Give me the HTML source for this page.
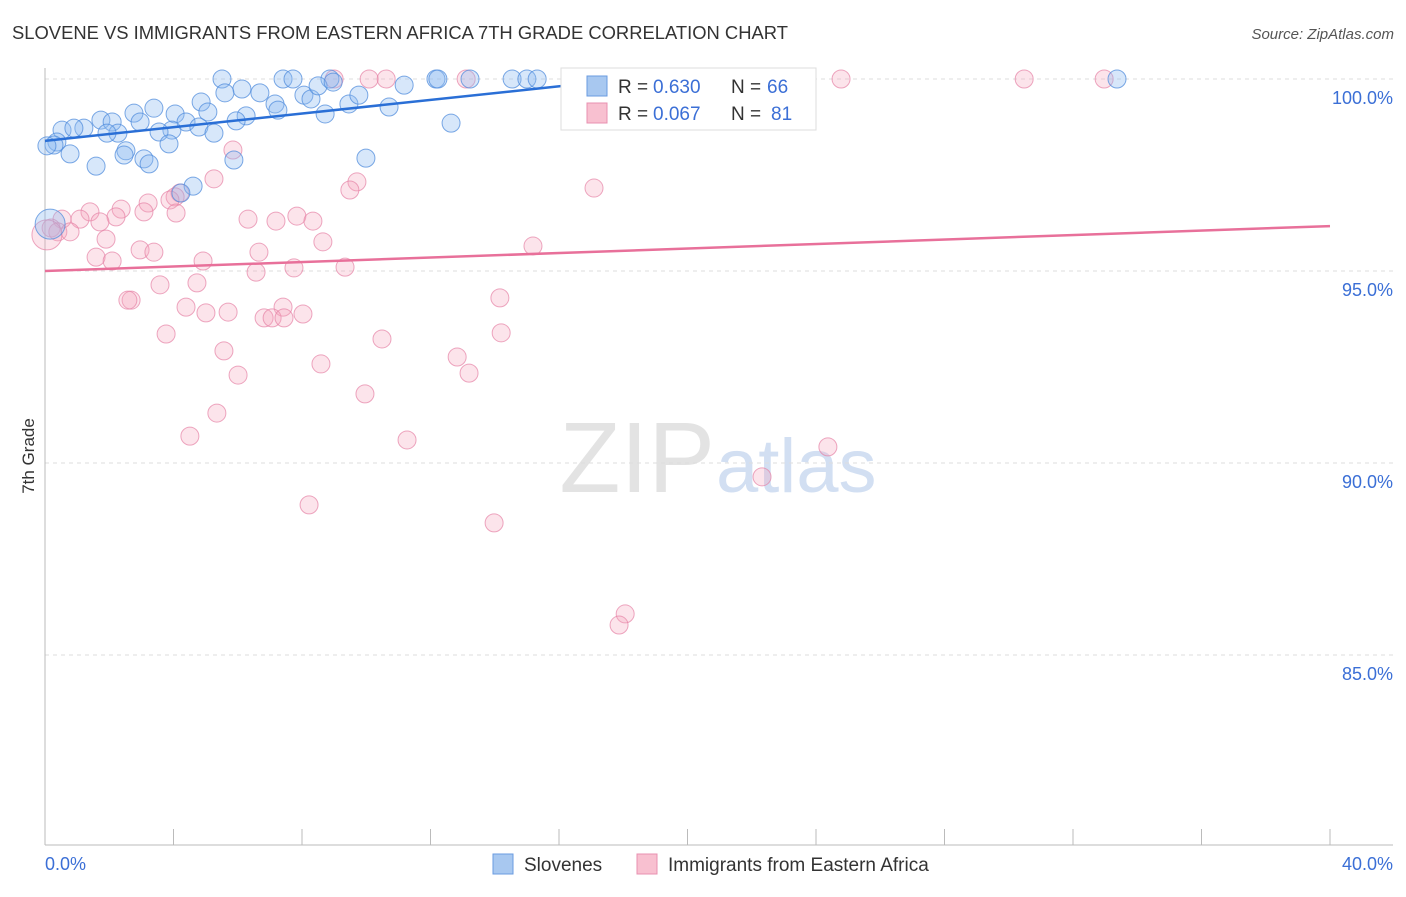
<!DOCTYPE html>
<html><head><meta charset="utf-8"><style>
body{margin:0;background:#fff;font-family:"Liberation Sans",sans-serif;}
svg text{font-family:"Liberation Sans",sans-serif;}
</style></head><body>
<svg id="chart" width="1406" height="892" viewBox="0 0 1406 892" xmlns="http://www.w3.org/2000/svg">
<text x="12" y="39" font-size="18.4" fill="#333">SLOVENE VS IMMIGRANTS FROM EASTERN AFRICA 7TH GRADE CORRELATION CHART</text>
<text x="1394" y="39" font-size="15" fill="#555" text-anchor="end" font-style="italic">Source: ZipAtlas.com</text>
<text x="715" y="492" font-size="100" fill="#ddd" text-anchor="end" font-family="Liberation Serif" opacity="0.8">ZIP</text>
<text x="716" y="492" font-size="76" fill="#c8d8f0" opacity="0.8">atlas</text>
<g id="grid"></g><g id="axes"></g><g id="pts"></g><g id="lines"></g>
<text transform="translate(34,456) rotate(-90)" font-size="17" fill="#333" text-anchor="middle">7th Grade</text>
<g>
<rect x="561" y="68" width="255" height="62" fill="#fff" stroke="#ddd"/>
<rect x="587" y="76" width="20" height="20" fill="#a8c8f0" stroke="#6a9be0"/>
<rect x="587" y="103" width="20" height="20" fill="#f8c0d0" stroke="#e890b0"/>
<text x="618" y="93" font-size="19" fill="#333">R =</text><text x="653" y="93" font-size="19" fill="#3b6fd6">0.630</text>
<text x="731" y="93" font-size="19" fill="#333">N =</text><text x="767" y="93" font-size="19" fill="#3b6fd6">66</text>
<text x="618" y="120" font-size="19" fill="#333">R =</text><text x="653" y="120" font-size="19" fill="#3b6fd6">0.067</text>
<text x="731" y="120" font-size="19" fill="#333">N =</text><text x="771" y="120" font-size="19" fill="#3b6fd6">81</text>
</g>
<g>
<rect x="493" y="854" width="20" height="20" fill="#a8c8f0" stroke="#6a9be0"/>
<text x="524" y="871" font-size="19" fill="#333">Slovenes</text>
<rect x="637" y="854" width="20" height="20" fill="#f8c0d0" stroke="#e890b0"/>
<text x="668" y="871" font-size="19" fill="#333">Immigrants from Eastern Africa</text>
</g>
<text x="45" y="870" font-size="18" fill="#3b6fd6">0.0%</text>
<text x="1393" y="870" font-size="18" fill="#3b6fd6" text-anchor="end">40.0%</text>
</svg>
<script>
const yTicks=[100,95,90,85];
const yTickLabels=["100.0%","95.0%","90.0%","85.0%"];
const xTicks=[0,4,8,12,16,20,24,28,32,36,40];
const blueX=[5.51,7.41,7.72,8.87,12.17,12.23,13.23,14.54,15.0,15.32,33.37,21.17,21.70,6.13,5.60,6.69,8.06,8.28,8.50,8.97,11.18,9.46,9.77,10.71,7.16,7.25,4.86,3.39,4.05,2.77,5.07,8.72,6.26,5.95,12.64,4.39,2.96,1.74,2.09,3.95,3.55,4.79,5.26,2.27,1.93,0.53,1.21,0.90,0.37,0.28,0.78,2.52,2.46,3.86,3.08,3.24,5.88,1.59,9.99,4.61,4.23,0.16,0.06];
const blueY=[100,100,100,100,100,100,100,100,100,100,100,100,100,99.74,99.64,99.64,99.58,99.48,99.82,99.92,99.84,99.35,99.58,99.27,99.35,99.19,99.40,99.24,99.09,99.11,99.14,99.09,99.04,98.91,98.85,98.88,98.88,98.93,98.88,98.67,98.62,98.75,98.59,98.59,98.59,98.67,98.72,98.72,98.36,98.28,98.05,98.13,98.02,98.31,97.92,97.79,97.89,97.73,97.94,97.21,97.03,96.22,98.26];
const blueSize=[9,9,9,9,9,9,9,9,9,9,9,9,9,9,9,9,9,9,9,9,9,9,9,9,9,9,9,9,9,9,9,9,9,9,9,9,9,9,9,9,9,9,9,9,9,9,9,9,9,9,9,9,9,9,9,9,9,9,9,9,9,15,9];
const pinkX=[9.0,10.62,10.09,13.11,16.6,17.25,23.19,23.35,24.78,30.48,32.97,5.85,17.09,9.71,9.49,5.26,4.2,4.05,3.89,3.21,2.37,3.08,4.08,1.4,2.21,0.53,1.09,1.71,6.32,7.19,7.84,8.34,0.19,0.40,0.78,1.9,8.65,15.19,2.96,3.39,6.66,1.59,2.09,4.92,6.57,7.75,9.34,3.58,4.73,2.68,2.58,4.39,14.16,5.01,5.7,7.41,8.03,6.82,7.07,7.44,3.77,14.2,10.49,5.57,12.83,8.59,13.2,6.01,9.96,5.35,4.51,11.27,24.37,22.32,8.22,13.98,18.06,17.87,0.06];
const pinkY=[100,100,100,100,100,100,100,100,100,100,100,98.15,97.16,97.32,97.11,97.40,97.03,96.93,96.85,96.77,96.61,96.54,96.51,96.54,96.41,96.35,96.35,96.28,96.35,96.30,96.43,96.30,96.12,96.02,96.02,95.83,95.76,95.65,95.55,95.49,95.49,95.36,95.26,95.26,94.97,95.08,95.10,94.64,94.69,94.24,94.24,94.06,94.30,93.91,93.93,94.06,93.88,93.78,93.78,93.78,93.36,93.39,93.23,92.92,92.76,92.58,92.34,92.29,91.80,91.30,90.70,90.60,90.42,89.64,88.91,88.44,86.07,85.78,95.94];
const blueTrendX=[0,17.8];
const blueTrendY=[98.39,99.97];
const pinkTrendX=[0,40];
const pinkTrendY=[95.0,96.17];
const X0=45,X1=1330,XD0=0,XD1=40,YP0=79,YPP=38.4;
function sx(v){return X0+(v-XD0)/(XD1-XD0)*(X1-X0);}
function sy(v){return YP0+(100-v)*YPP;}
const NS="http://www.w3.org/2000/svg";
function mk(tag,attrs,parent){const e=document.createElementNS(NS,tag);for(const k in attrs)e.setAttribute(k,attrs[k]);document.getElementById(parent).appendChild(e);return e;}
yTicks.forEach((t,i)=>{
 const l=mk('line',{x1:45,x2:1393,y1:sy(t),y2:sy(t),stroke:'#ddd','stroke-dasharray':'4,4'},'grid');
 
 
 const tx=mk('text',{x:1393,y:sy(t)+25,'font-size':18,fill:'#3b6fd6','text-anchor':'end'},'grid');
 tx.textContent=yTickLabels[i];
 
 
});
const ya=mk('line',{x1:45,x2:45,y1:68,y2:845,stroke:'#bbb'},'axes');


const xa=mk('line',{x1:45,x2:1393,y1:845,y2:845,stroke:'#bbb'},'axes');


xTicks.forEach(t=>{
 const l=mk('line',{x1:sx(t),x2:sx(t),y1:829,y2:845,stroke:'#bbb'},'axes');
 
 
});
function pts(xs,ys,sizes,fill,stroke,name){
 xs.forEach((x,i)=>{
  const r=sizes?sizes[i]:((i===xs.length-1)?15:9);
  const c=mk('circle',{cx:sx(x),cy:sy(ys[i]),r:r,fill:fill,stroke:stroke,'stroke-width':1},'pts');
  
  
 });
}
pts(pinkX,pinkY,null,'rgba(245,165,190,0.3)','rgba(230,130,165,0.7)','immigrant-point');
pts(blueX,blueY,blueSize,'rgba(140,185,240,0.35)','rgba(80,140,220,0.75)','slovene-point');
const bl=mk('line',{x1:sx(blueTrendX[0]),y1:sy(blueTrendY[0]),x2:sx(blueTrendX[1]),y2:sy(blueTrendY[1]),stroke:'#2a6fd6','stroke-width':2.5},'lines');


const pl=mk('line',{x1:sx(pinkTrendX[0]),y1:sy(pinkTrendY[0]),x2:sx(pinkTrendX[1]),y2:sy(pinkTrendY[1]),stroke:'#e8709a','stroke-width':2.5},'lines');


</script>
</body></html>
